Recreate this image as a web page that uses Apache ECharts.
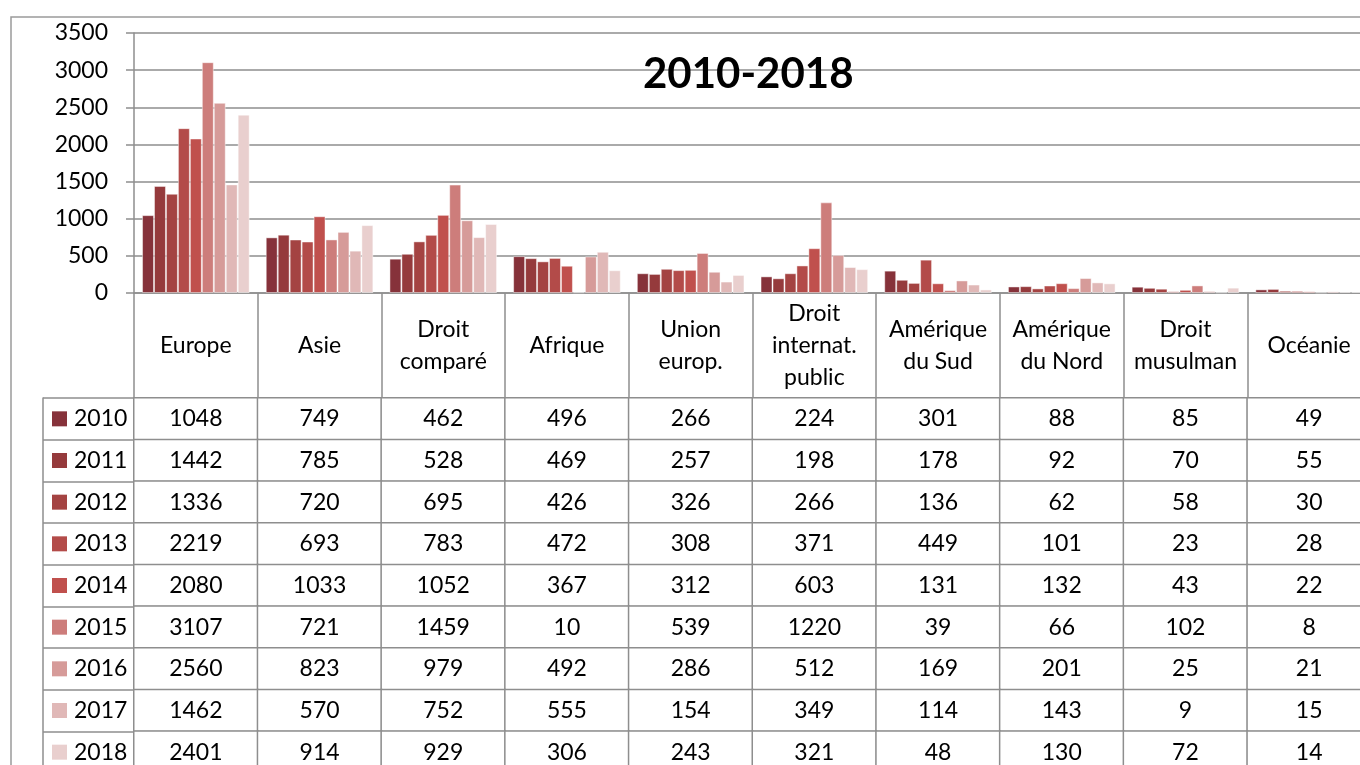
<!DOCTYPE html>
<html>
<head>
<meta charset="utf-8">
<script src="https://cdn.jsdelivr.net/npm/echarts@6/dist/echarts.min.js"></script>
<style>
  html, body { margin: 0; padding: 0; background: #fff; }
  #chart { width: 1360px; height: 765px; }
</style>
</head>
<body>
<div id="chart"></div>
<script>
// categories (x) and years (series)
var categories = ['Europe', 'Asie', 'Droit\ncomparé', 'Afrique', 'Union\neurop.', 'Droit\ninternat.\npublic',
    'Amérique\ndu Sud', 'Amérique\ndu Nord', 'Droit\nmusulman', 'Océanie'];
var years = ['2010', '2011', '2012', '2013', '2014', '2015', '2016', '2017', '2018'];
var yearColors = ['#86323a', '#953a3c', '#a44342', '#b34b49', '#c0504d', '#cd7d7b', '#d69b99', '#e0b8b7', '#e9cfce'];

// values by year, one per category
var v2010 = [1048, 749, 462, 496, 266, 224, 301, 88, 85, 49];
var v2011 = [1442, 785, 528, 469, 257, 198, 178, 92, 70, 55];
var v2012 = [1336, 720, 695, 426, 326, 266, 136, 62, 58, 30];
var v2013 = [2219, 693, 783, 472, 308, 371, 449, 101, 23, 28];
var v2014 = [2080, 1033, 1052, 367, 312, 603, 131, 132, 43, 22];
var v2015 = [3107, 721, 1459, 10, 539, 1220, 39, 66, 102, 8];
var v2016 = [2560, 823, 979, 492, 286, 512, 169, 201, 25, 21];
var v2017 = [1462, 570, 752, 555, 154, 349, 114, 143, 9, 15];
var v2018 = [2401, 914, 929, 306, 243, 321, 48, 130, 72, 14];
var values = [v2010, v2011, v2012, v2013, v2014, v2015, v2016, v2017, v2018];

var yTicks = { min: 0, max: 3500, interval: 500 };

var FONT = 'Lato';
var FS = 23;
var lineColor = '#8e8e8e';

// bar series
var barSeries = years.map(function (y, i) {
    return {
        name: y,
        type: 'bar',
        xAxisIndex: 0,
        yAxisIndex: 0,
        barGap: '0%',
        barCategoryGap: '13%',
        itemStyle: { color: yearColors[i], borderColor: 'rgba(255,255,255,0.45)', borderWidth: 1 },
        data: values[i]
    };
});

// data table cells
var cells = [];
values.forEach(function (row, yi) {
    row.forEach(function (v, xi) {
        cells.push([xi, yi, v]);
    });
});

var rich = {};
years.forEach(function (y, i) {
    rich['k' + i] = { width: 15, height: 15, backgroundColor: yearColors[i] };
});
rich.t = { fontFamily: FONT, fontSize: FS, color: '#000', padding: [0, 0, 0, 7] };

var chart = echarts.init(document.getElementById('chart'));
chart.setOption({
    animation: false,
    backgroundColor: '#fff',
    title: {
        text: '2010-2018',
        left: 638,
        top: 48,
        textStyle: { fontFamily: FONT, fontSize: 42, fontWeight: 'bold', color: '#000' }
    },
    graphic: [{
        type: 'rect',
        shape: { x: 11, y: 17, width: 1400, height: 800 },
        style: { fill: 'none', stroke: '#9a9a9a', lineWidth: 1.5 },
        silent: true
    }],
    grid: [
        { left: 134, top: 33, width: 1237, height: 260, outerBoundsMode: 'none' },
        { left: 134, top: 398, width: 1237, height: 375, outerBoundsMode: 'none' }
    ],
    xAxis: [{
        gridIndex: 0,
        type: 'category',
        data: categories,
        axisLine: { lineStyle: { color: lineColor, width: 1.5 } },
        axisTick: { show: true, length: 105, lineStyle: { color: lineColor, width: 1.5 } },
        axisLabel: {
            margin: 53,
            verticalAlign: 'middle',
            fontFamily: FONT,
            fontSize: FS,
            lineHeight: 32,
            color: '#000',
            interval: 0
        }
    }, {
        gridIndex: 1,
        type: 'category',
        data: categories,
        show: false
    }],
    yAxis: [{
        gridIndex: 0,
        type: 'value',
        min: yTicks.min,
        max: yTicks.max,
        interval: yTicks.interval,
        axisLine: { show: true, lineStyle: { color: lineColor, width: 1.5 } },
        axisTick: { show: true, length: 8, lineStyle: { color: lineColor, width: 1.5 } },
        axisLabel: {
            margin: 26, fontFamily: FONT, fontSize: FS, color: '#000',
            formatter: function (v) { return String(v); }
        },
        splitLine: { lineStyle: { color: lineColor, width: 1.5 } }
    }, {
        gridIndex: 1,
        type: 'category',
        data: years,
        inverse: true,
        axisLine: { show: false },
        axisTick: { show: true, length: 91, lineStyle: { color: lineColor, width: 1.5 } },
        axisLabel: {
            margin: 82,
            align: 'left',
            formatter: function (val, idx) {
                return '{k' + idx + '|}{t|' + val + '}';
            },
            rich: rich
        },
        splitLine: { show: false }
    }, {
        gridIndex: 1,
        type: 'value',
        position: 'left',
        offset: 91,
        axisLine: { show: true, lineStyle: { color: lineColor, width: 1.5 } },
        axisTick: { show: false },
        axisLabel: { show: false },
        splitLine: { show: false }
    }],
    series: barSeries.concat([{
        type: 'heatmap',
        xAxisIndex: 1,
        yAxisIndex: 1,
        data: cells,
        itemStyle: { color: '#fff', borderColor: lineColor, borderWidth: 1.5 },
        label: { show: true, fontFamily: FONT, fontSize: FS, color: '#000', formatter: function (p) { return p.value[2]; } }
    }])
});
</script>
</body>
</html>
